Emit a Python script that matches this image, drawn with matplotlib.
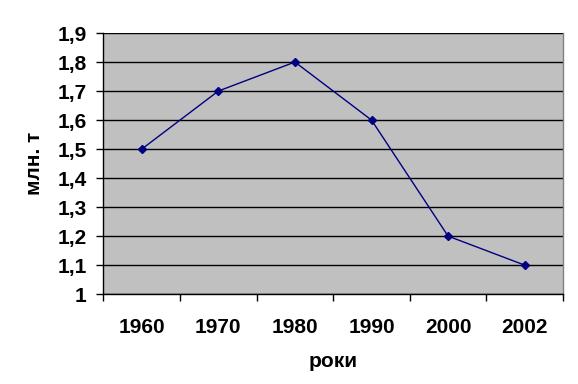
import matplotlib.pyplot as plt
import numpy as np
from matplotlib.ticker import FixedLocator

years = ['1960', '1970', '1980', '1990', '2000', '2002']
values = [1.5, 1.7, 1.8, 1.6, 1.2, 1.1]
yticks = [1.0, 1.1, 1.2, 1.3, 1.4, 1.5, 1.6, 1.7, 1.8, 1.9]
ytick_labels = ['1', '1,1', '1,2', '1,3', '1,4', '1,5', '1,6', '1,7', '1,8', '1,9']

plt.rcParams['font.family'] = ['Liberation Sans', 'DejaVu Sans']
plt.rcParams['font.weight'] = 'bold'

fig = plt.figure(figsize=(5.78, 3.84), dpi=100)
ax = fig.add_axes([0.179, 0.234, 0.795, 0.68])
ax.set_facecolor('#c0c0c0')

x = np.arange(len(years))
ax.plot(x, values, color='#000080', linewidth=1, marker='D', markersize=4, zorder=3)

ax.set_xlim(-0.5, len(years) - 0.5)
ax.set_ylim(1.0, 1.9)
ax.set_yticks(yticks)
ax.set_yticklabels(ytick_labels, fontsize=15, fontweight='bold')
ax.set_xticks(x)
ax.set_xticklabels(years, fontsize=15, fontweight='bold')
ax.tick_params(axis='x', which='major', length=0, pad=17)
ax.xaxis.set_minor_locator(FixedLocator(np.arange(-0.5, len(years), 1.0)))
ax.tick_params(axis='x', which='minor', length=5, width=1, color='black')
ax.tick_params(axis='y', length=5, width=1, color='black', pad=7)
ax.grid(axis='y', color='black', linewidth=1)
ax.set_axisbelow(True)

for s in ['left', 'bottom']:
    ax.spines[s].set_color('black')
    ax.spines[s].set_linewidth(1)
ax.spines['top'].set_visible(False)
ax.spines['right'].set_color('#808080')
ax.spines['right'].set_linewidth(1)

ax.set_ylabel('млн. т', fontsize=15, fontweight='bold', labelpad=10)
ax.set_xlabel('роки', fontsize=15, fontweight='bold', labelpad=11)

fig.savefig('out.png', dpi=100, facecolor='white')
